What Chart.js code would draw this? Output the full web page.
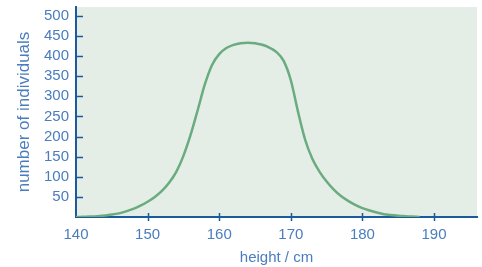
<!DOCTYPE html>
<html>
<head>
<meta charset="utf-8">
<script src="https://cdn.jsdelivr.net/npm/chart.js@4"></script>
<style>
  html, body { margin: 0; padding: 0; background: #ffffff; }
  #wrap { width: 482px; height: 267px; }
</style>
</head>
<body>
<div id="wrap"><canvas id="heightChart" width="482" height="267"></canvas></div>
<script>
// heights (cm) and number of individuals
let heights = [140, 141, 142, 143, 144, 145, 146, 147, 148, 149, 150, 151, 152, 153, 154, 155, 156, 157, 158, 159, 160, 161, 162, 163, 164, 165, 166, 167, 168, 169, 170, 171, 172, 173, 174, 175, 176, 177, 178, 179, 180, 181, 182, 183, 184, 185, 186, 187, 188];
let counts  = [0, 0.5, 1, 2, 4, 6, 9, 14, 20, 28, 38, 50, 65, 85, 112, 152, 204, 266, 330, 378, 405, 420, 428, 432, 433, 432, 428, 421, 410, 388, 340, 262, 192, 145, 113, 88, 68, 52, 40, 30, 22, 16, 11, 7, 5, 3, 2, 1, 0];

let yTicks = [50, 100, 150, 200, 250, 300, 350, 400, 450, 500];
let xTicks = [140, 150, 160, 170, 180, 190];

let axisBlue = "#1b5a9c";
let labelBlue = "#4a7dbd";

// fill the plot area and draw the little tick marks on the axes
let plotDecor = {
  id: "plotDecor",
  beforeDraw: function (chart) {
    let a = chart.chartArea;
    let ctx = chart.ctx;
    ctx.save();
    ctx.fillStyle = "#e4eee6";
    ctx.fillRect(a.left, a.top, a.right - a.left, a.bottom - a.top);
    ctx.restore();
  },
  afterDraw: function (chart) {
    let ctx = chart.ctx;
    let a = chart.chartArea;
    let xs = chart.scales.x;
    let ys = chart.scales.y;
    ctx.save();
    ctx.strokeStyle = axisBlue;
    ctx.lineWidth = 1.5;
    ctx.beginPath();
    yTicks.forEach(function (v) {
      let py = Math.round(ys.getPixelForValue(v)) + 0.5;
      ctx.moveTo(a.left, py);
      ctx.lineTo(a.left + 7, py);
    });
    xTicks.forEach(function (v) {
      if (v === 140) return;
      let px = Math.round(xs.getPixelForValue(v)) + 0.5;
      ctx.moveTo(px, a.bottom - 4);
      ctx.lineTo(px, a.bottom + 4);
    });
    ctx.stroke();
    ctx.restore();
  }
};

let points = heights.map(function (h, i) {
  return { x: h, y: counts[i] };
});

let canvas = document.getElementById("heightChart");
let ctx = canvas.getContext("2d");

let heightChart = new Chart(ctx, {
  type: "line",
  data: {
    datasets: [
      {
        data: points,
        borderColor: "#6aab80",
        borderWidth: 2.5,
        pointRadius: 0,
        fill: false,
        cubicInterpolationMode: "monotone",
      },
    ],
  },
  options: {
    responsive: false,
    animation: false,
    layout: {
      padding: { top: 7, right: 5, left: 0, bottom: 0 },
    },
    plugins: {
      legend: { display: false },
      tooltip: { enabled: false },
    },
    scales: {
      x: {
        type: "linear",
        min: 140,
        max: 196,
        afterFit: function (s) {
          s.height = 50;
          s.paddingLeft = 0;
          s.paddingRight = 0;
        },
        afterBuildTicks: function (s) {
          s.ticks = xTicks.map(function (v) { return { value: v }; });
        },
        ticks: {
          color: labelBlue,
          padding: 9,
          maxRotation: 0,
          font: { family: "Liberation Sans", size: 15 },
        },
        grid: { display: true, drawOnChartArea: false, drawTicks: false },
        border: { color: axisBlue, width: 2 },
        title: {
          display: true,
          text: "height / cm",
          color: labelBlue,
          font: { family: "Liberation Sans", size: 15 },
          padding: { top: 0, bottom: 0 },
        },
      },
      y: {
        min: 0,
        max: 522,
        afterFit: function (s) {
          s.width = 76;
          s.paddingTop = 0;
          s.paddingBottom = 0;
        },
        afterBuildTicks: function (s) {
          s.ticks = yTicks.map(function (v) { return { value: v }; });
        },
        ticks: {
          color: labelBlue,
          padding: 7,
          font: { family: "Liberation Sans", size: 15 },
        },
        grid: { display: true, drawOnChartArea: false, drawTicks: false },
        border: { color: axisBlue, width: 2 },
        title: {
          display: true,
          text: "number of individuals",
          color: labelBlue,
          font: { family: "Liberation Sans", size: 17 },
          padding: { top: 14, bottom: 0 },
        },
      },
    },
  },
  plugins: [plotDecor],
});
</script>
</body>
</html>
